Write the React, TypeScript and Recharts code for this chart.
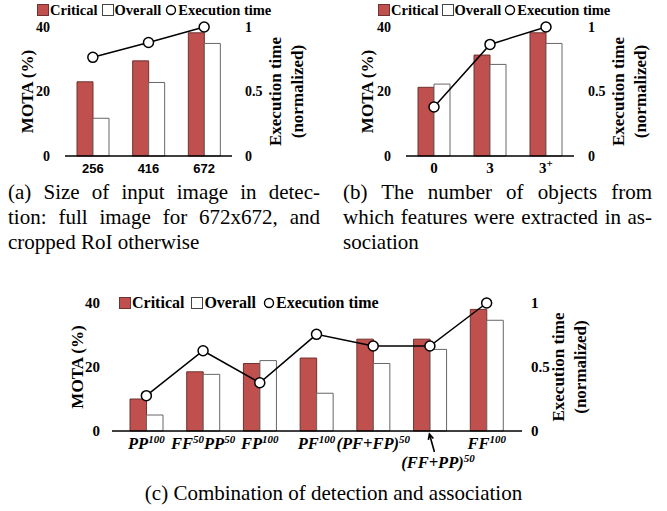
import { ComposedChart, Bar, Line, XAxis, YAxis, Legend } from "recharts";

// (a) size of input image
const sizeCats = ["256", "416", "672"];
const sizeCritical = [23, 29.5, 38.2];
const sizeOverall = [11.7, 22.8, 34.9];
const sizeTime = [0.765, 0.88, 1];

// (b) number of objects
const objCats = ["0", "3", "3+"];
const objCritical = [21.3, 31.3, 38.2];
const objOverall = [22.3, 28.4, 34.9];
const objTime = [0.38, 0.865, 1];

// (c) combination of detection and association
const combCats = ["PP100", "FF50PP50", "FP100", "PF100", "(PF+FP)50", "(FF+PP)50", "FF100"];
const combCritical = [10, 18.5, 21.1, 22.8, 28.7, 28.7, 38];
const combOverall = [5, 17.7, 22, 11.8, 21.1, 25.5, 34.6];
const combTime = [0.276, 0.627, 0.377, 0.755, 0.664, 0.664, 1];
// label pieces: [text, superscript?]
const combTickParts: [string, boolean][][] = [
  [["PP", false], ["100", true]],
  [["FF", false], ["50", true], ["PP", false], ["50", true]],
  [["FP", false], ["100", true]],
  [["PF", false], ["100", true]],
  [["(PF+FP)", false], ["50", true]],
  [["(FF+PP)", false], ["50", true]],
  [["FF", false], ["100", true]],
];
const combLowered = ["(FF+PP)50"];

const leftTicks = [0, 20, 40];
const rightTicks = [0, 0.5, 1];

const RED = "#C0504D";
const RED_EDGE = "#6e3330";
const WHITE_EDGE = "#666";
const SERIF = '"Liberation Serif", "DejaVu Serif", serif';
const SANS = '"Liberation Sans", Arial, sans-serif';

const legendItems = [
  { name: "Critical", kind: "red" },
  { name: "Overall", kind: "white" },
  { name: "Execution time", kind: "circle" },
];

const buildRows = (cats: string[], critical: number[], overall: number[], time: number[]) =>
  cats.map((name, i) => ({ name, critical: critical[i], overall: overall[i], time: time[i] }));

const LegendBox = ({ fontSize, gap }: { fontSize: number; gap: number }) => (
  <div
    style={{
      display: "flex",
      alignItems: "center",
      fontFamily: SERIF,
      fontWeight: "bold",
      fontSize,
      lineHeight: 1,
      color: "#000",
      whiteSpace: "nowrap",
    }}
  >
    {legendItems.map((it) => (
      <div key={it.name} style={{ display: "flex", alignItems: "center", marginRight: gap }}>
        <svg width={12} height={12} style={{ marginRight: 1 }}>
          {it.kind === "circle" ? (
            <circle cx={6} cy={6} r={4.5} fill="#fff" stroke="#000" strokeWidth={1.4} />
          ) : (
            <rect
              x={0.5}
              y={0.5}
              width={11}
              height={11}
              fill={it.kind === "red" ? RED : "#fff"}
              stroke={it.kind === "red" ? RED_EDGE : "#444"}
            />
          )}
        </svg>
        {it.name}
      </div>
    ))}
  </div>
);

const AxisTitle = (props: any) => {
  const { viewBox, lines, dx, lineGap = 22, fontSize = 17 } = props;
  if (!viewBox) return null;
  const cy = viewBox.y + viewBox.height / 2;
  return (
    <g>
      {lines.map((t: string, i: number) => {
        const x = viewBox.x + dx + i * lineGap;
        return (
          <text
            key={t}
            x={x}
            y={cy}
            transform={`rotate(-90 ${x} ${cy})`}
            textAnchor="middle"
            dominantBaseline="central"
            fontFamily={SERIF}
            fontWeight="bold"
            fontSize={fontSize}
            fill="#000"
          >
            {t}
          </text>
        );
      })}
    </g>
  );
};

const numTick = (anchor: "start" | "end", fontSize: number) => (p: any) => (
  <text
    x={p.x}
    y={p.y}
    dy="0.35em"
    textAnchor={anchor}
    fontFamily={SERIF}
    fontWeight="bold"
    fontSize={fontSize}
    fill="#000"
  >
    {p.payload.value}
  </text>
);

const SizeTick = (p: any) => (
  <text x={p.x} y={p.y + 17} textAnchor="middle" fontFamily={SANS} fontWeight="bold" fontSize={13} fill="#000">
    {p.payload.value}
  </text>
);

const ObjTick = (p: any) => {
  const v: string = p.payload.value;
  const sup = v.endsWith("+");
  return (
    <text x={p.x} y={p.y + 17} textAnchor="middle" fontFamily={SERIF} fontWeight="bold" fontSize={15} fill="#000">
      {sup ? v.slice(0, -1) : v}
      {sup && (
        <tspan dy={-6} fontSize={11}>
          +
        </tspan>
      )}
    </text>
  );
};

const CombTick = (p: any) => {
  const v: string = p.payload.value;
  const parts = combTickParts[combCats.indexOf(v)] || [[v, false]];
  const low = combLowered.includes(v);
  const tx = p.x + (low ? 8 : 0);
  const ty = p.y + (low ? 37 : 18);
  let shift = 0;
  const spans = parts.map(([t, sup], k) => {
    const target = sup ? -6 : 0;
    const dy = target - shift;
    shift = target;
    return (
      <tspan key={k} dy={dy} fontSize={sup ? 11 : 16.5}>
        {t}
      </tspan>
    );
  });
  let arrow = null;
  if (low) {
    const x1 = p.x + 4.5, y1 = p.y + 21;
    const x2 = p.x - 0.5, y2 = p.y + 3;
    const a = Math.atan2(y2 - y1, x2 - x1);
    const h = 6;
    const hx1 = x2 - h * Math.cos(a - 0.45), hy1 = y2 - h * Math.sin(a - 0.45);
    const hx2 = x2 - h * Math.cos(a + 0.45), hy2 = y2 - h * Math.sin(a + 0.45);
    arrow = (
      <path
        d={`M${x1},${y1}L${x2},${y2}M${hx1},${hy1}L${x2},${y2}L${hx2},${hy2}`}
        stroke="#000"
        strokeWidth={1.6}
        fill="none"
      />
    );
  }
  return (
    <g>
      {arrow}
      <text x={tx} y={ty} textAnchor="middle" fontFamily={SERIF} fontWeight="bold" fontStyle="italic" fontSize={16.5} fill="#000">
        {spans}
      </text>
    </g>
  );
};

type PanelProps = {
  rows: any[];
  left: number;
  top: number;
  width: number;
  height: number;
  plotTop: number;
  leftW: number;
  rightW: number;
  xH: number;
  barSize: number;
  pad?: { left: number; right: number };
  tickFont: number;
  leftGap: number;
  rightGap: number;
  xTick: (p: any) => any;
  legend: { left: number; top: number; fontSize: number; gap: number };
  titles: { mota: number; exec: number; lineGap: number };
};

const Panel = (c: PanelProps) => (
  <div style={{ position: "absolute", left: c.left, top: c.top }}>
    <ComposedChart
      width={c.width}
      height={c.height}
      data={c.rows}
      margin={{ top: c.plotTop, right: 0, bottom: 0, left: 0 }}
      barGap={0}
    >
      <XAxis
        dataKey="name"
        height={c.xH}
        interval={0}
        tickLine={false}
        tickSize={0}
        tickMargin={0}
        padding={c.pad}
        axisLine={{ stroke: "#000", strokeWidth: 1.3 }}
        tick={c.xTick}
      />
      <YAxis
        yAxisId="l"
        width={c.leftW}
        domain={[0, 40]}
        ticks={leftTicks}
        axisLine={false}
        tickLine={false}
        tickSize={0}
        tickMargin={c.leftGap}
        tick={numTick("end", c.tickFont)}
        label={<AxisTitle lines={["MOTA (%)"]} dx={c.titles.mota} />}
      />
      <YAxis
        yAxisId="r"
        orientation="right"
        width={c.rightW}
        domain={[0, 1]}
        ticks={rightTicks}
        axisLine={false}
        tickLine={false}
        tickSize={0}
        tickMargin={c.rightGap}
        tick={numTick("start", c.tickFont)}
        label={
          <AxisTitle lines={["Execution time", "(normalized)"]} dx={c.titles.exec} lineGap={c.titles.lineGap} />
        }
      />
      <Legend
        layout="vertical"
        align="center"
        verticalAlign="middle"
        wrapperStyle={{ left: c.legend.left, top: c.legend.top, width: "auto", height: "auto" }}
        content={() => <LegendBox fontSize={c.legend.fontSize} gap={c.legend.gap} />}
      />
      <Bar
        yAxisId="l"
        dataKey="critical"
        name="Critical"
        barSize={c.barSize}
        fill={RED}
        stroke={RED_EDGE}
        strokeWidth={1}
        isAnimationActive={false}
      />
      <Bar
        yAxisId="l"
        dataKey="overall"
        name="Overall"
        barSize={c.barSize}
        fill="#fff"
        stroke={WHITE_EDGE}
        strokeWidth={1}
        isAnimationActive={false}
      />
      <Line
        yAxisId="r"
        dataKey="time"
        name="Execution time"
        type="linear"
        stroke="#000"
        strokeWidth={1.5}
        dot={{ r: 5, fill: "#fff", stroke: "#000", strokeWidth: 1.5 }}
        isAnimationActive={false}
      />
    </ComposedChart>
  </div>
);

const captionStyle = {
  position: "absolute" as const,
  fontFamily: SERIF,
  fontSize: 21,
  lineHeight: "25px",
  color: "#000",
};

const JLine = ({ text, justify }: { text: string; justify: boolean }) => (
  <div style={{ textAlign: justify ? "justify" : "left", textAlignLast: justify ? "justify" : "left", whiteSpace: "nowrap" }}>
    {text}
  </div>
);

export default function App() {
  return (
    <div style={{ position: "absolute", left: 0, top: 0, width: 667, height: 511, background: "#fff", overflow: "hidden" }}>
      <Panel
        rows={buildRows(sizeCats, sizeCritical, sizeOverall, sizeTime)}
        left={0}
        top={0}
        width={330}
        height={180}
        plotTop={27}
        leftW={65}
        rightW={98}
        xH={24}
        barSize={16}
        tickFont={14}
        leftGap={15}
        rightGap={13}
        xTick={SizeTick}
        legend={{ left: 37, top: 3, fontSize: 14.5, gap: 4 }}
        titles={{ mota: 27, exec: 43, lineGap: 22 }}
      />
      <Panel
        rows={buildRows(objCats, objCritical, objOverall, objTime)}
        left={333}
        top={0}
        width={334}
        height={180}
        plotTop={27}
        leftW={73}
        rightW={93}
        xH={24}
        barSize={16}
        tickFont={14}
        leftGap={15}
        rightGap={14}
        xTick={ObjTick}
        legend={{ left: 45, top: 3, fontSize: 14.5, gap: 3 }}
        titles={{ mota: 34, exec: 44, lineGap: 22 }}
      />
      <Panel
        rows={buildRows(combCats, combCritical, combOverall, combTime)}
        left={0}
        top={280}
        width={667}
        height={200}
        plotTop={23}
        leftW={112}
        rightW={145}
        xH={49}
        barSize={16.5}
        pad={{ left: 6, right: 7 }}
        tickFont={15}
        leftGap={12}
        rightGap={9}
        xTick={CombTick}
        legend={{ left: 119, top: 15, fontSize: 16, gap: 7 }}
        titles={{ mota: 77, exec: 36, lineGap: 22 }}
      />

      <div style={{ ...captionStyle, left: 8, top: 180, width: 312 }}>
        <JLine text="(a) Size of input image in detec-" justify />
        <JLine text="tion: full image for 672x672, and" justify />
        <JLine text="cropped RoI otherwise" justify={false} />
      </div>
      <div style={{ ...captionStyle, left: 343, top: 180, width: 309 }}>
        <JLine text="(b) The number of objects from" justify />
        <JLine text="which features were extracted in as-" justify />
        <JLine text="sociation" justify={false} />
      </div>
      <div style={{ ...captionStyle, left: 0, top: 481, width: 667, textAlign: "center" }}>
        (c) Combination of detection and association
      </div>
    </div>
  );
}
